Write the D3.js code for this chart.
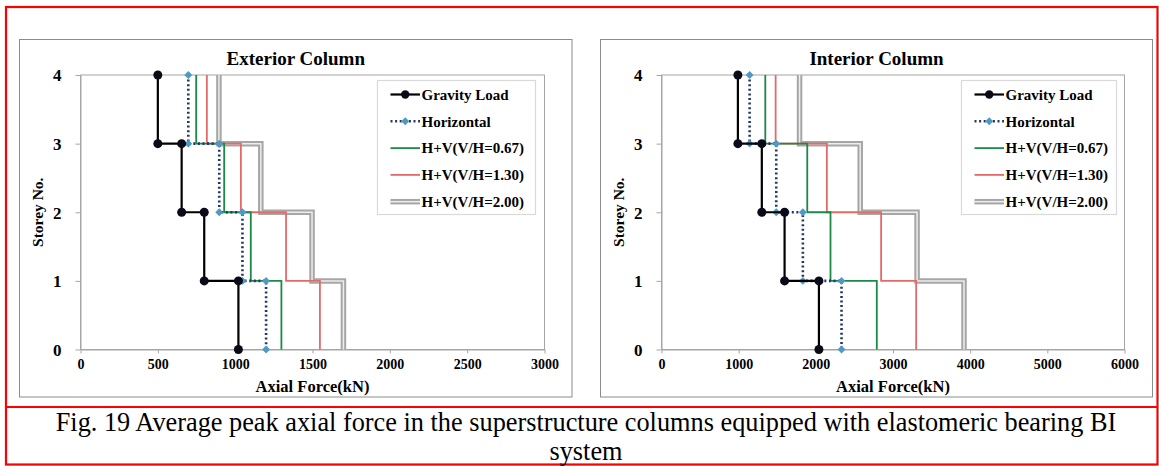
<!DOCTYPE html>
<html>
<head>
<meta charset="utf-8">
<script src="https://cdn.jsdelivr.net/npm/d3@7"></script>
<style>
  html, body { margin: 0; padding: 0; background: #fff; }
  svg { display: block; }
  text { font-family: "Liberation Serif", "Times New Roman", serif; }
</style>
</head>
<body>
<svg id="fig" width="1159" height="466"></svg>
<script>
// Storey levels, top to bottom
const storeys = [4, 3, 2, 1, 0];

// Peak axial force per storey segment (storey 4 down to storey 1), kN
const extGravity    = [500, 654, 800, 1021];
const extHorizontal = [697, 897, 1047, 1200];
const extHV067      = [748, 929, 1101, 1299];
const extHV130      = [817, 1037, 1329, 1548];
const extHV200      = [895, 1166, 1497, 1700];

const intGravity    = [990, 1300, 1595, 2040];
const intHorizontal = [1142, 1487, 1832, 2333];
const intHV067      = [1345, 1889, 2190, 2790];
const intHV130      = [1479, 2143, 2846, 3300];
const intHV200      = [1789, 2575, 3312, 3920];

const seriesNames = ["Gravity Load", "Horizontal", "H+V(V/H=0.67)", "H+V(V/H=1.30)", "H+V(V/H=2.00)"];
const extTicks = [0, 500, 1000, 1500, 2000, 2500, 3000];
const intTicks = [0, 1000, 2000, 3000, 4000, 5000, 6000];

const titles = ["Exterior Column", "Interior Column"];
const xTitle = "Axial Force(kN)";
const yTitle = "Storey No.";
const captionLines = [
  "Fig. 19 Average peak axial force in the superstructure columns equipped with elastomeric bearing BI",
  "system"
];

const svg = d3.select("#fig");
const serif = '"Liberation Serif", "Times New Roman", serif';

// Turn per-segment values into a step profile (force, storey)
function stepPoints(vals) {
  const pts = [];
  vals.forEach((v, i) => {
    pts.push([v, storeys[i]]);
    pts.push([v, storeys[i + 1]]);
  });
  return pts;
}

const styles = [
  { key: "grav", color: "#000", width: 2.2, marker: "circle" },
  { key: "hor", color: "#1F3864", width: 2.6, dash: "2,2.6", marker: "diamond" },
  { key: "g", color: "#1B8A47", width: 1.8 },
  { key: "r", color: "#E46A6A", width: 1.8 },
  { key: "gray", color: "#A6A6A6", width: 5.5, inner: "#EDEDED" }
];

const panels = [
  {
    frame: [19.5, 39.5, 572, 397],
    plot: { l: 80.5, r: 544.5, t: 75, b: 349.5 },
    xmax: 3000, ticks: extTicks, title: titles[0],
    data: [extGravity, extHorizontal, extHV067, extHV130, extHV200],
    legend: { x: 377, y: 80, w: 158, h: 134 }
  },
  {
    frame: [600.5, 39.5, 1152.5, 397],
    plot: { l: 661.5, r: 1124.5, t: 75, b: 349.5 },
    xmax: 6000, ticks: intTicks, title: titles[1],
    data: [intGravity, intHorizontal, intHV067, intHV130, intHV200],
    legend: { x: 961, y: 80, w: 155, h: 134 }
  }
];

// Outer red frame and caption separator
const red = svg.append("g").attr("fill", "none").attr("stroke", "#FF0000").attr("stroke-width", 2.2);
red.append("rect").attr("x", 6).attr("y", 7).attr("width", 1151.5).attr("height", 457.5);
red.append("line").attr("x1", 6).attr("x2", 1157.5).attr("y1", 407).attr("y2", 407);

captionLines.forEach((t, i) => {
  svg.append("text")
    .attr("x", 586).attr("y", 431 + i * 29)
    .attr("text-anchor", "middle")
    .attr("font-size", 26.3)
    .attr("fill", "#000")
    .text(t);
});

function drawSymbol(g, st, x1, x2, y) {
  const xm = (x1 + x2) / 2;
  if (st.inner) {
    g.append("line").attr("x1", x1).attr("x2", x2).attr("y1", y).attr("y2", y)
      .attr("stroke", st.color).attr("stroke-width", st.width);
    g.append("line").attr("x1", x1).attr("x2", x2).attr("y1", y).attr("y2", y)
      .attr("stroke", st.inner).attr("stroke-width", 1.5);
  } else {
    g.append("line").attr("x1", x1).attr("x2", x2).attr("y1", y).attr("y2", y)
      .attr("stroke", st.color).attr("stroke-width", st.width)
      .attr("stroke-dasharray", st.dash || null);
  }
  if (st.marker === "circle") {
    g.append("circle").attr("cx", xm).attr("cy", y).attr("r", 4.2).attr("fill", "#0A0A18");
  } else if (st.marker === "diamond") {
    g.append("path").attr("d", d3.symbol(d3.symbolDiamond2, 40)())
      .attr("transform", `translate(${xm},${y})`).attr("fill", "#4F9AC4");
  }
}

panels.forEach(p => {
  const g = svg.append("g");
  const [fx1, fy1, fx2, fy2] = p.frame;
  g.append("rect").attr("x", fx1).attr("y", fy1).attr("width", fx2 - fx1).attr("height", fy2 - fy1)
    .attr("fill", "#fff").attr("stroke", "#8C8C8C").attr("stroke-width", 1);

  const x = d3.scaleLinear().domain([0, p.xmax]).range([p.plot.l, p.plot.r]);
  const y = d3.scaleLinear().domain([0, 4]).range([p.plot.b, p.plot.t]);

  // Plot area border
  g.append("rect").attr("x", p.plot.l).attr("y", p.plot.t)
    .attr("width", p.plot.r - p.plot.l).attr("height", p.plot.b - p.plot.t)
    .attr("fill", "none").attr("stroke", "#A6A6A6").attr("stroke-width", 1);

  // Axes
  const xAxis = g.append("g").attr("transform", `translate(0,${p.plot.b})`)
    .call(d3.axisBottom(x).tickValues(p.ticks).tickSize(4).tickSizeOuter(0).tickFormat(d3.format("d")).tickPadding(6));
  const yAxis = g.append("g").attr("transform", `translate(${p.plot.l},0)`)
    .call(d3.axisLeft(y).tickValues(storeys).tickSize(5).tickSizeOuter(0).tickFormat(d3.format("d")).tickPadding(14));
  [xAxis, yAxis].forEach(a => {
    a.select(".domain").attr("stroke", "#A6A6A6");
    a.selectAll(".tick line").attr("stroke", "#A6A6A6");
    a.selectAll("text").attr("font-family", serif).attr("font-weight", "bold").attr("fill", "#000");
  });
  xAxis.selectAll("text").attr("font-size", 14);
  yAxis.selectAll("text").attr("font-size", 17).attr("dy", "0.34em");

  // Titles
  g.append("text").attr("x", (fx1 + fx2) / 2).attr("y", 65).attr("text-anchor", "middle")
    .attr("font-size", 19).attr("font-weight", "bold").text(p.title);
  g.append("text").attr("x", (p.plot.l + p.plot.r) / 2).attr("y", 392).attr("text-anchor", "middle")
    .attr("font-size", 16.5).attr("font-weight", "bold").text(xTitle);
  g.append("text").attr("transform", `translate(${fx1 + 23},${(p.plot.t + p.plot.b) / 2}) rotate(-90)`)
    .attr("text-anchor", "middle").attr("font-size", 15.5).attr("font-weight", "bold").text(yTitle);

  // Series lines, drawn back to front
  const line = d3.line().x(d => x(d[0])).y(d => y(d[1]));
  const order = [4, 3, 2, 1, 0];
  order.forEach(i => {
    const st = styles[i];
    const pts = stepPoints(p.data[i]);
    const sg = g.append("g");
    sg.append("path").attr("d", line(pts)).attr("fill", "none")
      .attr("stroke", st.color).attr("stroke-width", st.width)
      .attr("stroke-dasharray", st.dash || null);
    if (st.inner) {
      sg.append("path").attr("d", line(pts)).attr("fill", "none")
        .attr("stroke", st.inner).attr("stroke-width", 1.5);
    }
    if (st.marker === "circle") {
      sg.selectAll("circle").data(pts).join("circle")
        .attr("cx", d => x(d[0])).attr("cy", d => y(d[1])).attr("r", 4.5).attr("fill", "#0A0A18");
    } else if (st.marker === "diamond") {
      sg.selectAll("path.m").data(pts).join("path").attr("class", "m")
        .attr("d", d3.symbol(d3.symbolDiamond2, 40)())
        .attr("transform", d => `translate(${x(d[0])},${y(d[1])})`).attr("fill", "#4F9AC4");
    }
  });

  // Legend
  const L = p.legend;
  const lg = g.append("g");
  lg.append("rect").attr("x", L.x + 0.5).attr("y", L.y + 0.5).attr("width", L.w).attr("height", L.h)
    .attr("fill", "#fff").attr("stroke", "#D9D9D9").attr("stroke-width", 1.2);
  seriesNames.forEach((name, i) => {
    const yy = L.y + 14.5 + i * 26.8;
    drawSymbol(lg, styles[i], L.x + 13.5, L.x + 43, yy);
    lg.append("text").attr("x", L.x + 44.5).attr("y", yy).attr("dy", "0.35em")
      .attr("font-size", 15).attr("font-weight", "bold").text(name);
  });
});
</script>
</body>
</html>
